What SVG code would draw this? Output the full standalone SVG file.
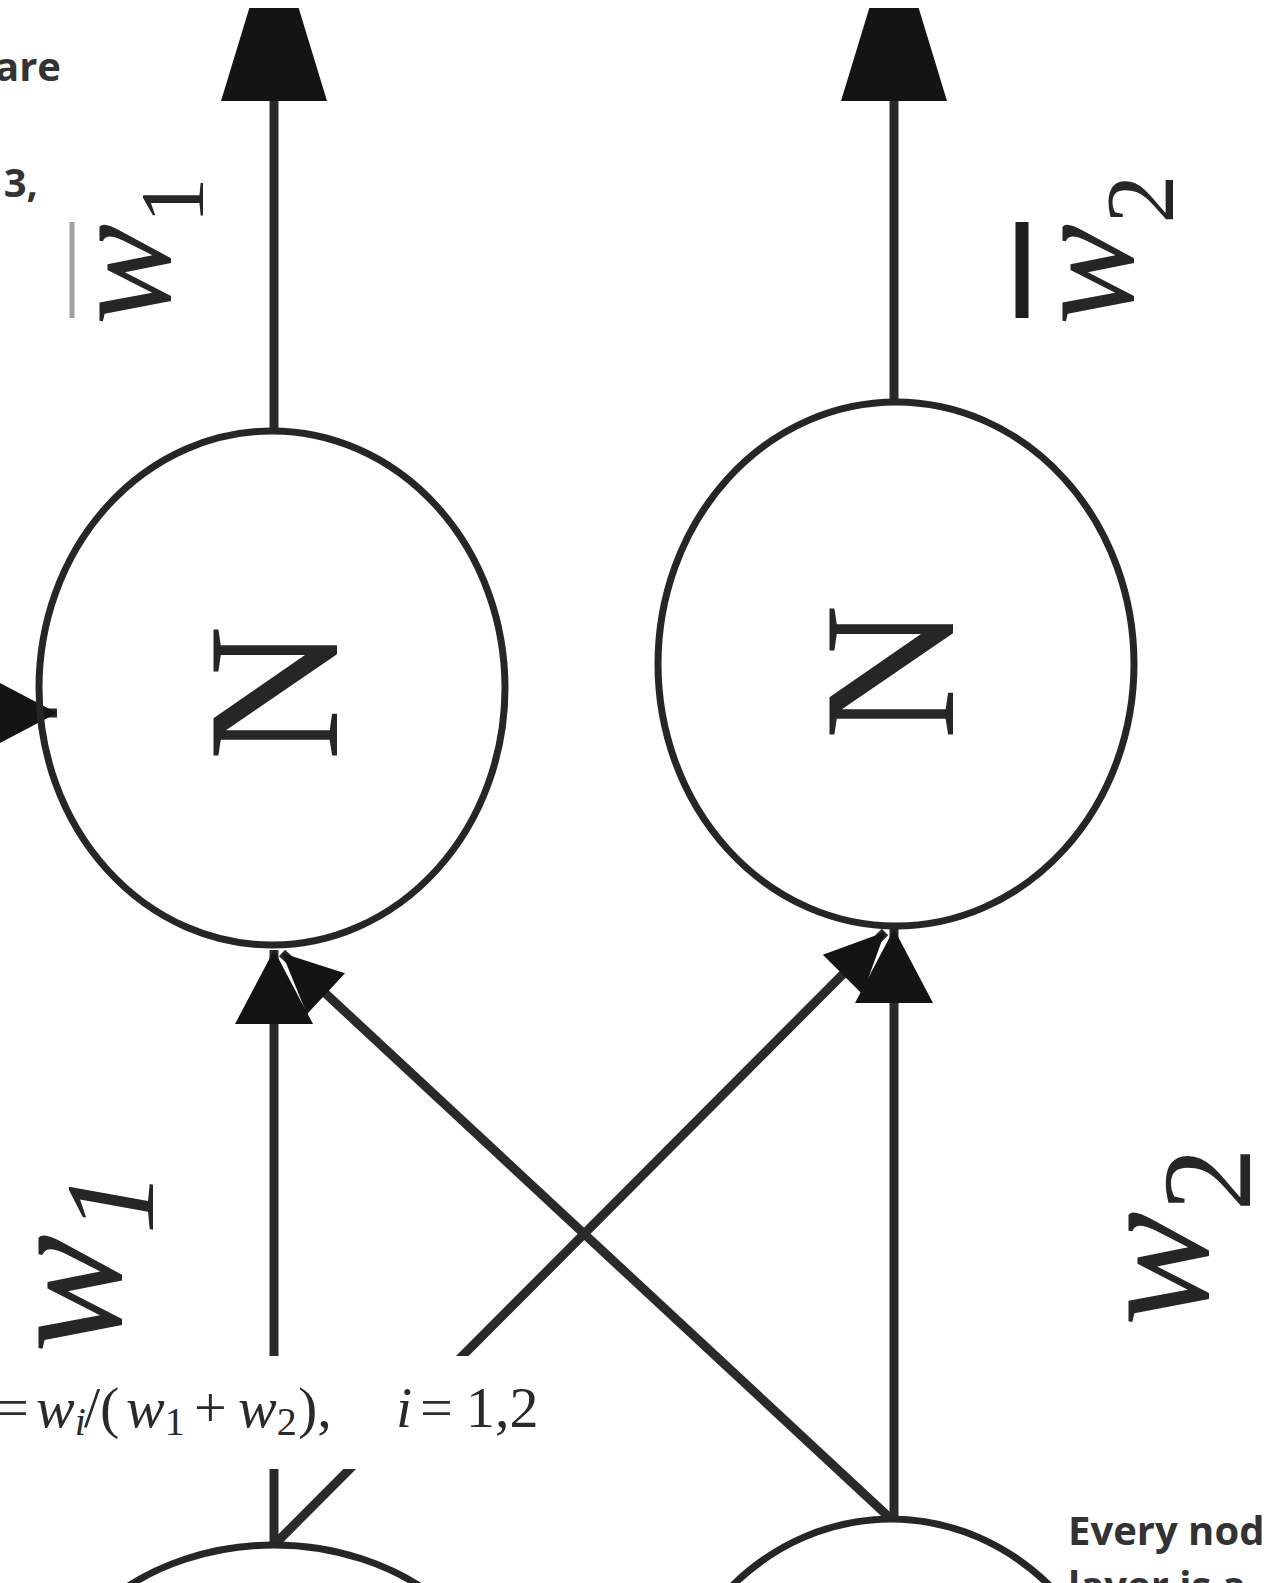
<svg xmlns="http://www.w3.org/2000/svg" width="1268" height="1583" viewBox="0 0 1268 1583">
  <style>
    .node { fill: none; stroke: #262626; stroke-width: 7; }
    .edge { fill: none; stroke: #2a2a2a; stroke-width: 9; }
    .sym { font-family: "Liberation Serif", "DejaVu Serif", serif; fill: #262626; }
    .ital { font-style: italic; }
    .prose { font-family: "Open Sans", "Noto Sans", sans-serif; font-weight: bold; font-size: 40px; fill: #333333; }
    .formula { font-family: "Liberation Serif", "DejaVu Serif", serif; font-size: 58px; fill: #2a2a2a; }
  </style>
  <defs>
    <marker id="headBig" markerUnits="userSpaceOnUse" viewBox="-176 -56 178 112" refX="0" refY="0" markerWidth="178" markerHeight="112" orient="auto" overflow="visible">
      <path d="M0,0 L-174,-53 L-174,53 Z" fill="#141414"/>
    </marker>
    <marker id="headSmall" markerUnits="userSpaceOnUse" viewBox="-76 -40 78 80" refX="0" refY="0" markerWidth="78" markerHeight="80" orient="auto" overflow="visible">
      <path d="M0,0 L-74,-39 L-74,39 Z" fill="#141414"/>
    </marker>
    <marker id="headDiag" markerUnits="userSpaceOnUse" viewBox="-62 -30 64 60" refX="0" refY="0" markerWidth="64" markerHeight="60" orient="auto" overflow="visible">
      <path d="M0,0 L-60,-28 L-60,28 Z" fill="#141414"/>
    </marker>
  </defs>
  <rect width="1268" height="1583" fill="#ffffff"/>

  <g id="connectors">
    <line class="edge" x1="274" y1="431" x2="274" y2="-73" marker-end="url(#headBig)"/>
    <line class="edge" x1="894" y1="404" x2="894" y2="-73" marker-end="url(#headBig)"/>
    <line class="edge" x1="274" y1="1545" x2="274" y2="950" marker-end="url(#headSmall)"/>
    <line class="edge" x1="891" y1="1519" x2="282" y2="953" marker-end="url(#headDiag)"/>
    <line class="edge" x1="274" y1="1545" x2="885" y2="932" marker-end="url(#headDiag)"/>
    <line class="edge" x1="894" y1="1519" x2="894" y2="929" marker-end="url(#headSmall)"/>
    <line class="edge" x1="-120" y1="713" x2="57" y2="713" marker-end="url(#headSmall)"/>
  </g>
  <rect x="0" y="0" width="1268" height="8" fill="#ffffff"/>

  <g id="node-n1">
    <ellipse class="node" cx="272" cy="688" rx="233" ry="257"/>
    <text class="sym" font-size="188" text-anchor="middle" transform="translate(337,693) rotate(-90)">N</text>
  </g>
  <g id="node-n2">
    <ellipse class="node" cx="896" cy="664" rx="238" ry="262"/>
    <text class="sym" font-size="188" text-anchor="middle" transform="translate(953,672) rotate(-90)">N</text>
  </g>
  <g id="node-in1">
    <ellipse class="node" cx="274" cy="1745" rx="240" ry="200"/>
  </g>
  <g id="node-in2">
    <ellipse class="node" cx="891" cy="1781" rx="238" ry="262"/>
  </g>

  <g id="labels">
    <g id="label-wbar1">
      <text class="sym ital" font-size="152" transform="translate(170,325) rotate(-90)">w<tspan font-style="normal" font-size="92" dy="33">1</tspan></text>
      <line x1="72" y1="222" x2="72" y2="318" stroke="#a0a0a0" stroke-width="5"/>
    </g>
    <g id="label-wbar2">
      <text class="sym ital" font-size="152" transform="translate(1133,325) rotate(-90)">w<tspan font-style="normal" font-size="98" dy="40">2</tspan></text>
      <line x1="1022" y1="222" x2="1022" y2="318" stroke="#1e1e1e" stroke-width="13"/>
    </g>
    <g id="label-w1">
      <text class="sym ital" font-size="178" transform="translate(120,1353) rotate(-90)">w<tspan font-size="128" dy="33">1</tspan></text>
    </g>
    <g id="label-w2">
      <text class="sym ital" font-size="172" transform="translate(1207,1326) rotate(-90)">w<tspan font-style="normal" font-size="128" dy="43">2</tspan></text>
    </g>
  </g>

  <g id="formula">
    <rect x="0" y="1356" width="562" height="113" fill="#ffffff"/>
    <text class="formula" y="1427">
      <tspan x="-4">=</tspan><tspan x="36" font-style="italic">w</tspan><tspan font-style="italic" font-size="40" dy="8">i</tspan><tspan x="84" dy="-8">/(</tspan><tspan x="126" font-style="italic">w</tspan><tspan font-size="40" dy="8">1</tspan><tspan x="194" dy="-8">+</tspan><tspan x="238" font-style="italic">w</tspan><tspan font-size="40" dy="8">2</tspan><tspan x="298" dy="-8">),</tspan><tspan x="396" font-style="italic">i</tspan><tspan x="420">=</tspan><tspan x="466">1,2</tspan>
    </text>
  </g>

  <g id="prose">
    <text class="prose" x="61" y="81" text-anchor="end">are</text>
    <text class="prose" x="38" y="197" text-anchor="end">3,</text>
    <text class="prose" x="1068" y="1545">Every nod</text>
    <text class="prose" x="1068" y="1600">layer is a</text>
  </g>
</svg>
